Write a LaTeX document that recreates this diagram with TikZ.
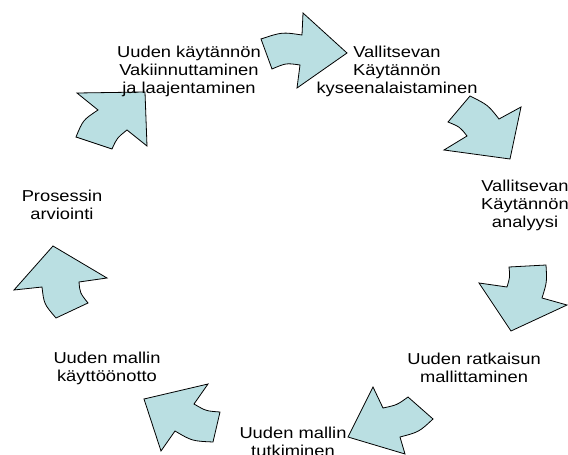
\documentclass[tikz,border=0pt]{standalone}
\usepackage{fontspec}
\setmainfont[FakeStretch=1.16]{Liberation Sans}
\definecolor{arrowfill}{RGB}{186,223,226}
\begin{document}
\begin{tikzpicture}[x=1pt,y=-1pt,
  cyc/.style={draw=black,fill=arrowfill,line width=0.8pt,line join=miter},
  lbl/.style={align=center,inner sep=0pt,font=\fontsize{15.8}{18}\selectfont}]
\useasboundingbox (0,0) rectangle (568,455);
% arrows
\draw[cyc] (261,39) .. controls (282,32) .. (302,35) -- (303,13) -- (347,53) -- (297,88) -- (300,65) .. controls (286,63) .. (272,69) -- cycle;
\draw[cyc] (470,96) -- (448,122) .. controls (460,127) .. (467,136) -- (444,150) -- (510,159) -- (521,107) -- (499,119) .. controls (488,105) .. cycle;
\draw[cyc] (509,267) -- (546,265) .. controls (547,282) .. (542,298) -- (567,305) -- (511,331) -- (479,283) -- (507,287) .. controls (510,277) .. cycle;
\draw[cyc] (373,387) -- (383,408) .. controls (397,405) .. (408,397) -- (433,419) .. controls (419,432) .. (400,437) -- (405,454) -- (348,437) -- cycle;
\draw[cyc] (144,399) -- (208,384) -- (194,404) .. controls (206,411) .. (220,412) -- (213,442) .. controls (192,441) .. (175,431) -- (161,451) -- cycle;
\draw[cyc] (53,246) -- (107,278) -- (79,282) .. controls (80,293) .. (88,303) -- (56,318) .. controls (44,304) .. (42,287) -- (14,290) -- cycle;
\draw[cyc] (77,93) -- (145,92) -- (147,146) -- (127,130) .. controls (117,138) .. (112,149) -- (76,137) .. controls (83,120) .. (98,110) -- cycle;
% labels
\node[lbl] (t1) at (397,71) {Vallitsevan\\Käytännön\\kyseenalaistaminen};
\node[lbl] (t2) at (525,205) {Vallitsevan\\Käytännön\\analyysi};
\node[lbl] (t3) at (474,368) {Uuden ratkaisun\\mallittaminen};
\node[lbl] (t4) at (293,442) {Uuden mallin\\tutkiminen};
\node[lbl] (t5) at (107,368) {Uuden mallin\\käyttöönotto};
\node[lbl] (t6) at (62,205) {Prosessin\\arviointi};
\node[lbl] (t7) at (189,71) {Uuden käytännön\\Vakiinnuttaminen\\ja laajentaminen};
\end{tikzpicture}
\end{document}
